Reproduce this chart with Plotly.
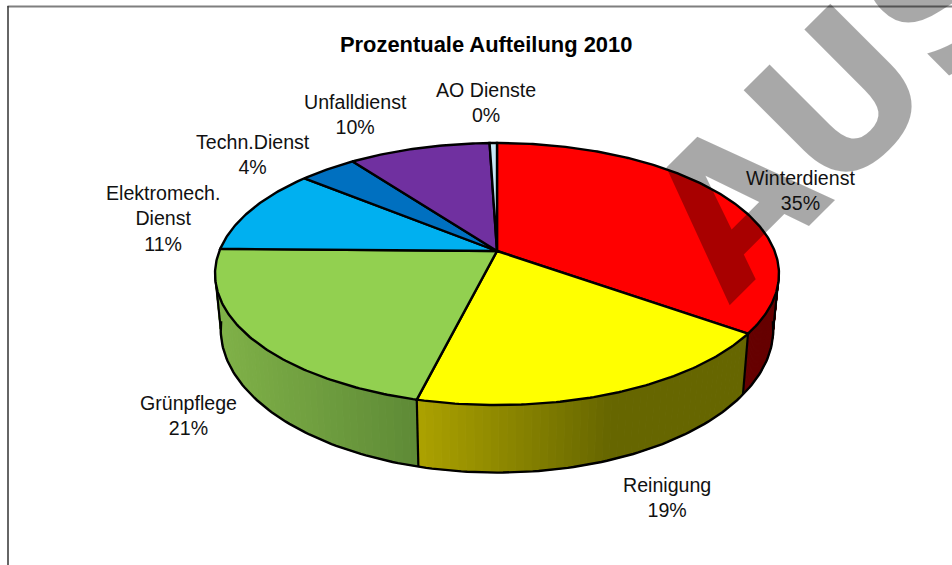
import math
import plotly.graph_objects as go

names = ["Winterdienst", "Reinigung", "Grünpflege", "Elektromech.<br>Dienst", "Techn.Dienst", "Unfalldienst", "AO Dienste"]
values = [34.9, 18.9, 21.4, 10.7, 3.9, 9.6, 0.5]
top_colors = ["#FF0000", "#FFFF00", "#92D050", "#00B0F0", "#0070C0", "#7030A0", "#C6E7F5"]
label_xy = [(800, 190), (667, 497), (188, 415), (163, 218), (253, 154), (355, 114), (486, 102)]
title_text = "Prozentuale Aufteilung 2010"
watermark = "AUS"
# wall gradients: colour at the wall's left and right x positions
wall_stops = {0: [(740, (102, 0, 0)), (790, (102, 0, 0))],
              1: [(418, (172, 162, 0)), (610, (102, 102, 0)), (745, (102, 102, 0))],
              2: [(217, (128, 178, 72)), (418, (94, 138, 54))]}

P = 0.1756
X0, Y0, A, B = 497, 251, 277.6, 127
Yb, Ab, Bb = 304, 272, 139


def proj(deg, bottom=False):
    a = math.radians(deg)
    u, v = math.sin(a), math.cos(a)
    d = 1 + P * v
    if bottom:
        return X0 + Ab * u / d, Yb - Bb * v / d
    return X0 + A * u / d, Y0 - B * v / d


def wall_color(i, x):
    s = wall_stops[i]
    if x <= s[0][0]:
        c = s[0][1]
    elif x >= s[-1][0]:
        c = s[-1][1]
    else:
        c = s[-1][1]
        for (x0, c0), (x1, c1) in zip(s, s[1:]):
            if x0 <= x <= x1:
                t = (x - x0) / (x1 - x0)
                c = tuple(c0[k] + t * (c1[k] - c0[k]) for k in range(3))
                break
    return "rgb(%d,%d,%d)" % tuple(round(q) for q in c)


total = sum(values)
edges = [0]
for val in values:
    edges.append(edges[-1] + val / total * 360)

fig = go.Figure()


def poly(xs, ys, color=None, line="black", width=2, fill=True):
    fig.add_trace(go.Scatter(x=xs, y=ys, mode="lines", hoverinfo="skip",
                             fill="toself" if fill else None,
                             fillcolor=color, line=dict(color=line, width=width)))


# side walls
wall_ranges = {0: (97, edges[1]), 1: (edges[1], edges[2]), 2: (edges[2], 263)}
for i, (a0, a1) in wall_ranges.items():
    n = 48
    for k in range(n):
        b0 = a0 + (a1 - a0) * k / n
        b1 = a0 + (a1 - a0) * (k + 1) / n
        p = [proj(b0), proj(b1), proj(b1, True), proj(b0, True)]
        col = wall_color(i, (p[0][0] + p[1][0] + p[2][0] + p[3][0]) / 4)
        poly([q[0] for q in p] + [p[0][0]], [q[1] for q in p] + [p[0][1]], col, col, 1)

# wall outlines
arc = [proj(97 + (263 - 97) * k / 160, True) for k in range(161)]
poly([q[0] for q in arc], [q[1] for q in arc], fill=False, width=2.4)
for d in (100, edges[1], edges[2], 260):
    p0, p1 = proj(d), proj(d, True)
    poly([p0[0], p1[0]], [p0[1], p1[1]], fill=False, width=2.2)

# top slices
for i, col in enumerate(top_colors):
    n = max(4, int((edges[i + 1] - edges[i]) * 1.5))
    rim = [proj(edges[i] + (edges[i + 1] - edges[i]) * k / n) for k in range(n + 1)]
    xs = [X0] + [q[0] for q in rim] + [X0]
    ys = [Y0] + [q[1] for q in rim] + [Y0]
    poly(xs, ys, col, "black", 2.4)

FONT = "Liberation Sans, Arial, sans-serif"
annotations = [dict(x=838, y=101, text="<b>%s</b>" % watermark, textangle=-45, showarrow=False,
                    font=dict(family="DejaVu Sans", size=195, color="rgba(0,0,0,0.34)"), xref="x", yref="y")]
for name, val, (x, y) in zip(names, values, label_xy):
    annotations.append(dict(x=x, y=y, text="%s<br>%d%%" % (name, round(val)), showarrow=False,
                            font=dict(family=FONT, size=19.6, color="#111111"), xref="x", yref="y",
                            align="center"))
annotations.append(dict(x=486, y=44, text="<b>%s</b>" % title_text, showarrow=False,
                        font=dict(family=FONT, size=21.9, color="black"), xref="x", yref="y"))

fig.update_layout(
    width=952, height=565, margin=dict(l=0, r=0, t=0, b=0),
    paper_bgcolor="white", plot_bgcolor="white", showlegend=False,
    xaxis=dict(range=[0, 952], visible=False, fixedrange=True),
    yaxis=dict(range=[565, 0], visible=False, fixedrange=True),
    annotations=annotations,
    shapes=[
        dict(type="line", xref="x", yref="y", x0=7.5, x1=952, y0=6.5, y1=6.5, line=dict(color="#7f7f7f", width=2)),
        dict(type="line", xref="x", yref="y", x0=8, x1=8, y0=6, y1=565, line=dict(color="#333333", width=1.5)),
    ],
)
fig.write_html("out.html", post_script="document.body.style.margin='0';document.body.style.overflow='hidden';",
               config={"displayModeBar": False})
